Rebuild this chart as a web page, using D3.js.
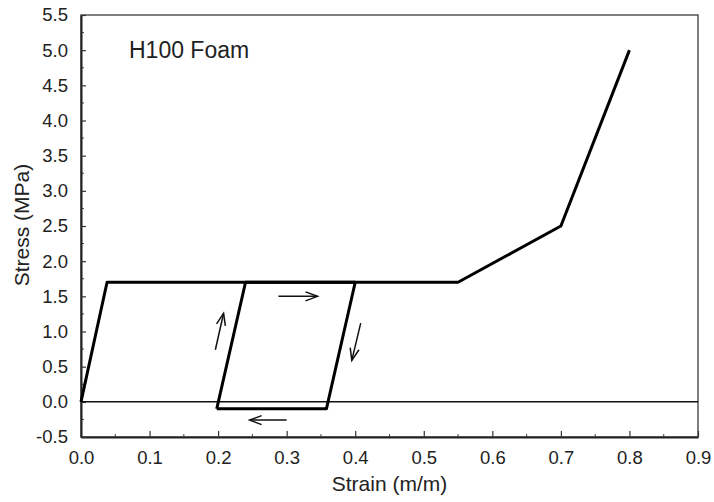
<!DOCTYPE html>
<html>
<head>
<meta charset="utf-8">
<script src="https://cdn.jsdelivr.net/npm/d3@7"></script>
<style>
  body { margin: 0; background: #fff; }
  text { font-family: "Liberation Sans", Arial, sans-serif; fill: #222; }
</style>
</head>
<body>
<div id="chart"></div>
<script>
// main loading curve (strain, stress)
const mainStrain = [0.0, 0.038, 0.55, 0.70, 0.80];
const mainStress = [0.0, 1.70, 1.70, 2.50, 5.00];

// unload / reload loop
const loopStrain = [0.198, 0.240, 0.400, 0.358, 0.198];
const loopStress = [-0.10, 1.70, 1.70, -0.10, -0.10];

// direction arrows: [x1, y1, x2, y2]
const arrows = [
    [0.196, 0.74, 0.208, 1.26],
    [0.288, 1.50, 0.345, 1.50],
    [0.408, 1.12, 0.395, 0.59],
    [0.300, -0.26, 0.246, -0.26]
];

const xTicks = [0, 0.1, 0.2, 0.3, 0.4, 0.5, 0.6, 0.7, 0.8, 0.9];
const yTicks = [-0.5, 0, 0.5, 1, 1.5, 2, 2.5, 3, 3.5, 4, 4.5, 5, 5.5];
const chartTitle = "H100 Foam";
const xTitle = "Strain (m/m)";
const yTitle = "Stress (MPa)";

const width = 714, height = 502;
const margin = { top: 15, right: 16, bottom: 65, left: 81 };
const w = width - margin.left - margin.right;
const h = height - margin.top - margin.bottom;

const svg = d3.select("#chart").append("svg")
    .attr("width", width)
    .attr("height", height);

const g = svg.append("g")
    .attr("transform", `translate(${margin.left},${margin.top})`);

const x = d3.scaleLinear().domain([0, 0.9]).range([0, w]);
const y = d3.scaleLinear().domain([-0.5, 5.5]).range([h, 0]);

// frame
g.append("rect")
    .attr("width", w).attr("height", h)
    .attr("fill", "none")
    .attr("stroke", "#555")
    .attr("stroke-width", 1.5);

// minor ticks (inward)
const xMinor = d3.range(0.05, 0.9, 0.1);
const yMinor = d3.range(-0.25, 5.5, 0.5);
g.selectAll(".xminor").data(xMinor).join("line")
    .attr("x1", d => x(d)).attr("x2", d => x(d))
    .attr("y1", h).attr("y2", h - 3)
    .attr("stroke", "#444").attr("stroke-width", 1);
g.selectAll(".yminor").data(yMinor).join("line")
    .attr("x1", 0).attr("x2", 3)
    .attr("y1", d => y(d)).attr("y2", d => y(d))
    .attr("stroke", "#444").attr("stroke-width", 1);

// major axes
const fmt = d => d.toFixed(1);
const xAxis = d3.axisBottom(x).tickValues(xTicks)
    .tickSizeInner(-6).tickSizeOuter(0).tickPadding(14)
    .tickFormat(fmt);
const yAxis = d3.axisLeft(y).tickValues(yTicks)
    .tickSizeInner(-5).tickSizeOuter(0).tickPadding(13)
    .tickFormat(fmt);

const gx = g.append("g").attr("transform", `translate(0,${h})`).call(xAxis);
const gy = g.append("g").call(yAxis);
[gx, gy].forEach(a => {
    a.select(".domain").attr("stroke", "#222").attr("stroke-width", 2);
    a.selectAll(".tick line").attr("stroke", "#333").attr("stroke-width", 1.2);
    a.selectAll(".tick text")
        .style("font-family", "'Liberation Sans', Arial, sans-serif")
        .style("font-size", "18.5px")
        .attr("fill", "#222");
});
gx.selectAll(".tick text").attr("dy", "0.71em");

// zero line
g.append("line")
    .attr("x1", 0).attr("x2", w)
    .attr("y1", y(0)).attr("y2", y(0))
    .attr("stroke", "#111").attr("stroke-width", 1.5);

const line = d3.line().x(d => x(d[0])).y(d => y(d[1]));

g.append("path")
    .datum(mainStrain.map((s, i) => [s, mainStress[i]]))
    .attr("d", line)
    .attr("fill", "none")
    .attr("stroke", "#000")
    .attr("stroke-width", 3)
    .attr("stroke-linejoin", "round");

g.append("path")
    .datum(loopStrain.map((s, i) => [s, loopStress[i]]))
    .attr("d", line)
    .attr("fill", "none")
    .attr("stroke", "#000")
    .attr("stroke-width", 3)
    .attr("stroke-linejoin", "round");

// arrows
arrows.forEach(a => {
    const x1 = x(a[0]), y1 = y(a[1]), x2 = x(a[2]), y2 = y(a[3]);
    const ang = Math.atan2(y2 - y1, x2 - x1);
    const L = 12, W = 4.5;
    const bx = x2 - L * Math.cos(ang), by = y2 - L * Math.sin(ang);
    const px = -Math.sin(ang) * W, py = Math.cos(ang) * W;
    g.append("line")
        .attr("x1", x1).attr("y1", y1).attr("x2", x2).attr("y2", y2)
        .attr("stroke", "#111").attr("stroke-width", 1.5);
    g.append("path")
        .attr("d", `M${bx + px},${by + py}L${x2},${y2}L${bx - px},${by - py}`)
        .attr("fill", "none")
        .attr("stroke", "#111").attr("stroke-width", 1.5);
});

// titles
g.append("text")
    .attr("x", 48).attr("y", 43)
    .style("font-size", "23px")
    .text(chartTitle);

svg.append("text")
    .attr("x", margin.left + x(0.45))
    .attr("y", 491)
    .attr("text-anchor", "middle")
    .style("font-size", "21px")
    .text(xTitle);

svg.append("text")
    .attr("transform", `translate(29,225) rotate(-90)`)
    .attr("text-anchor", "middle")
    .style("font-size", "21px")
    .text(yTitle);
</script>
</body>
</html>
